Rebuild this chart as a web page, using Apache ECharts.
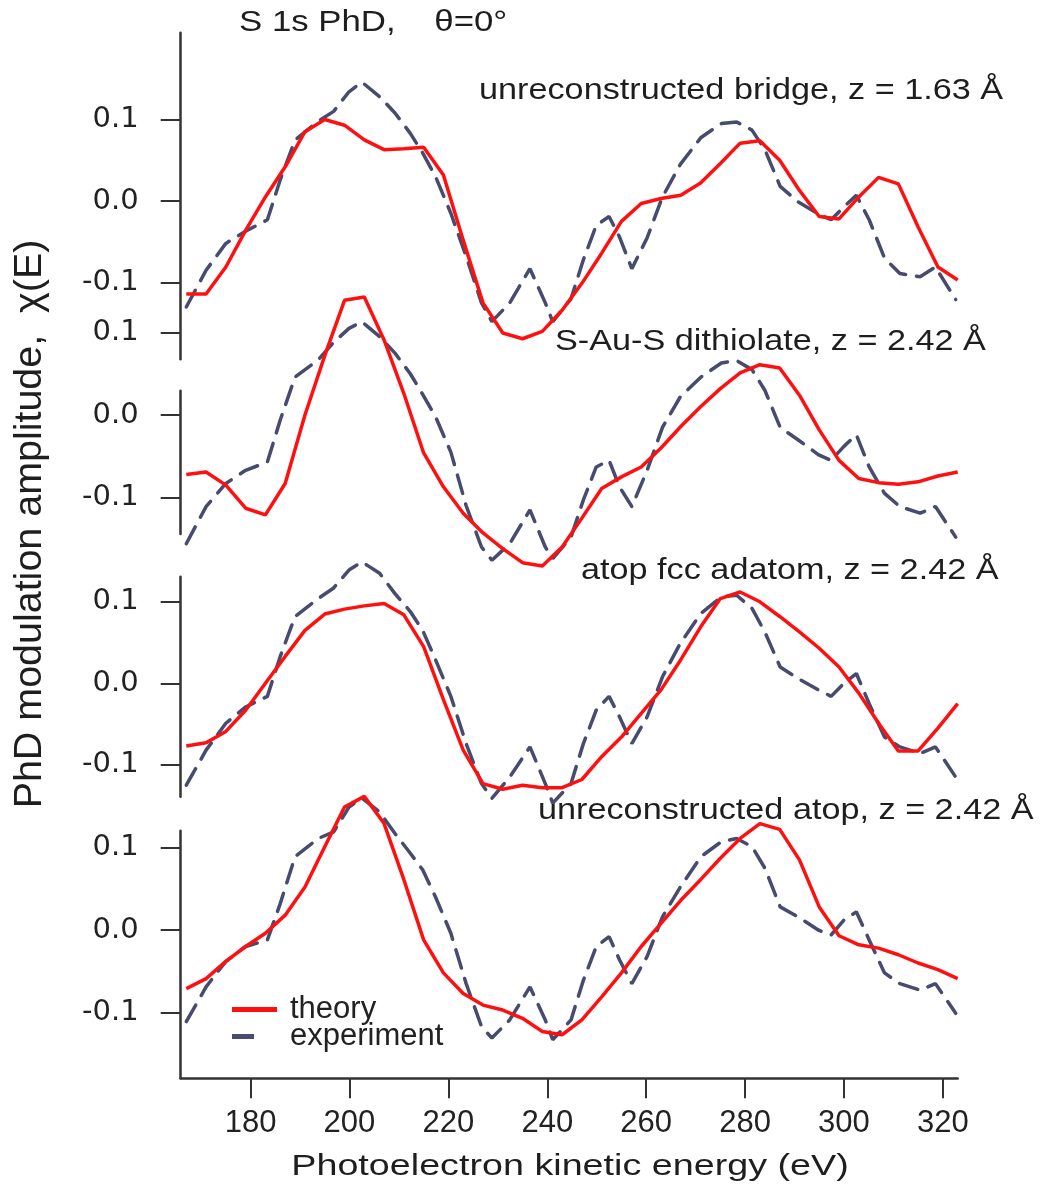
<!DOCTYPE html>
<html>
<head>
<meta charset="utf-8">
<script src="https://cdn.jsdelivr.net/npm/echarts@6/dist/echarts.min.js"></script>
<style>
  html, body { margin: 0; background: #fff; }
  #chart { width: 1043px; height: 1203px; }
</style>
</head>
<body>
<div id="chart"></div>
<script>
// photoelectron kinetic energy grids (eV)
const theoryEnergy = [167, 171, 175, 179, 183, 187, 191, 195, 199, 203, 207, 211, 215, 219, 223, 227, 231, 235, 239, 243,
  247, 251, 255, 259, 263, 267, 271, 275, 279, 283, 287, 291, 295, 299, 303, 307, 311, 315, 319, 323];
const exptEnergy = [167, 171, 175, 179, 183.4, 186, 189, 193.7, 196.8, 199.9, 202.5, 206.1, 209.2, 212.3, 214.8, 217.4,
  220.5, 223.6, 226.7, 228.8, 232.4, 236.5, 239.6, 241.1, 244.8, 247.3, 249.9, 252.5, 254.6, 257.1, 260.2, 263.3,
  266.9, 271.1, 275.2, 278.3, 281.4, 284.0, 287.1, 290.7, 294.8, 297.4, 300.0, 302.5, 305.1, 308.2, 311.3, 315.4,
  318.5, 322.6];

// unreconstructed bridge, z = 1.63 A
const bridgeTheory = [-0.114, -0.114, -0.081, -0.036, 0.005, 0.042, 0.085, 0.100, 0.093, 0.075, 0.063, 0.064, 0.066,
  0.032, -0.048, -0.125, -0.162, -0.169, -0.160, -0.134, -0.101, -0.064, -0.025, -0.003, 0.003, 0.007, 0.022, 0.046,
  0.071, 0.074, 0.050, 0.013, -0.019, -0.022, 0.005, 0.029, 0.021, -0.032, -0.081, -0.097];
const bridgeExpt = [-0.130, -0.085, -0.052, -0.037, -0.023, 0.026, 0.075, 0.098, 0.110, 0.134, 0.146, 0.128, 0.108,
  0.083, 0.059, 0.030, -0.015, -0.068, -0.125, -0.148, -0.125, -0.083, -0.125, -0.148, -0.120, -0.072, -0.030, -0.019,
  -0.044, -0.083, -0.045, 0.005, 0.045, 0.078, 0.095, 0.097, 0.087, 0.063, 0.018, -0.001, -0.016, -0.023, -0.007,
  0.007, -0.023, -0.070, -0.089, -0.093, -0.081, -0.121];

// S-Au-S dithiolate, z = 2.42 A
const dithiolateTheory = [-0.072, -0.069, -0.085, -0.113, -0.121, -0.083, 0.000, 0.072, 0.139, 0.143, 0.091, 0.026,
  -0.046, -0.087, -0.119, -0.143, -0.162, -0.179, -0.183, -0.160, -0.125, -0.089, -0.075, -0.063, -0.040, -0.014,
  0.010, 0.032, 0.051, 0.061, 0.057, 0.024, -0.018, -0.055, -0.077, -0.082, -0.084, -0.081, -0.074, -0.069];
const dithiolateExpt = [-0.156, -0.111, -0.083, -0.067, -0.057, -0.006, 0.046, 0.067, 0.088, 0.105, 0.113, 0.095,
  0.075, 0.050, 0.025, -0.002, -0.045, -0.110, -0.160, -0.176, -0.156, -0.115, -0.160, -0.174, -0.148, -0.103, -0.063,
  -0.055, -0.087, -0.111, -0.067, -0.015, 0.022, 0.046, 0.063, 0.066, 0.055, 0.030, -0.015, -0.030, -0.048, -0.055,
  -0.038, -0.024, -0.063, -0.095, -0.111, -0.119, -0.111, -0.148];

// atop fcc adatom, z = 2.42 A
const adatomTheory = [-0.077, -0.073, -0.059, -0.033, 0.000, 0.033, 0.065, 0.085, 0.091, 0.095, 0.098, 0.084, 0.045,
  -0.020, -0.082, -0.123, -0.130, -0.125, -0.128, -0.128, -0.118, -0.090, -0.066, -0.037, -0.008, 0.029, 0.069, 0.104,
  0.112, 0.100, 0.082, 0.063, 0.043, 0.020, -0.012, -0.049, -0.083, -0.083, -0.055, -0.025];
const adatomExpt = [-0.125, -0.082, -0.049, -0.029, -0.016, 0.033, 0.082, 0.104, 0.117, 0.139, 0.149, 0.135, 0.110,
  0.088, 0.065, 0.029, -0.016, -0.074, -0.123, -0.141, -0.115, -0.078, -0.123, -0.147, -0.123, -0.074, -0.033, -0.016,
  -0.041, -0.074, -0.041, 0.008, 0.049, 0.086, 0.106, 0.108, 0.092, 0.063, 0.020, 0.006, -0.008, -0.016, 0.000, 0.012,
  -0.025, -0.066, -0.078, -0.086, -0.078, -0.115];

// unreconstructed atop, z = 2.42 A
const atopTheory = [-0.071, -0.059, -0.038, -0.020, -0.004, 0.018, 0.052, 0.101, 0.149, 0.162, 0.129, 0.061, -0.012,
  -0.052, -0.077, -0.091, -0.097, -0.107, -0.123, -0.127, -0.109, -0.081, -0.052, -0.020, 0.008, 0.036, 0.061, 0.087,
  0.111, 0.129, 0.122, 0.085, 0.028, -0.007, -0.018, -0.022, -0.030, -0.040, -0.048, -0.059];
const atopExpt = [-0.111, -0.069, -0.038, -0.020, -0.012, 0.032, 0.089, 0.111, 0.119, 0.149, 0.160, 0.143, 0.117,
  0.093, 0.073, 0.040, -0.004, -0.065, -0.117, -0.131, -0.109, -0.069, -0.109, -0.133, -0.109, -0.061, -0.020, -0.008,
  -0.036, -0.065, -0.032, 0.016, 0.052, 0.089, 0.107, 0.111, 0.101, 0.075, 0.028, 0.016, 0.000, -0.006, 0.012, 0.022,
  -0.012, -0.052, -0.065, -0.073, -0.065, -0.101];

const panelLabels = ["unreconstructed bridge, z = 1.63 Å", "S-Au-S dithiolate, z = 2.42 Å",
  "atop fcc adatom, z = 2.42 Å", "unreconstructed atop, z = 2.42 Å"];
const yTicks = [-0.1, 0, 0.1];
const xTicks = [180, 200, 220, 240, 260, 280, 300, 320];

const theorySets = [bridgeTheory, dithiolateTheory, adatomTheory, atopTheory];
const exptSets = [bridgeExpt, dithiolateExpt, adatomExpt, atopExpt];

// layout of each stacked panel (pixel top/height and the value range they cover)
const panels = [
  { top: 32.7, height: 326.6, min: -0.1942, max: 0.2065, label: [479, 91] },
  { top: 330.85, height: 203.15, min: -0.14424, max: 0.102, label: [555, 342] },
  { top: 576.7, height: 220, min: -0.1391, max: 0.1308, label: [581, 571] },
  { top: 830.7, height: 247.6, min: -0.17976, max: 0.12036, label: [538, 811] },
];
const LEFT = 180.7, WIDTH = 777, XMIN = 165.87, XMAX = 323;
const RED = "#ff1010", EXP = "#474b6d", AXIS = "#333";
const textFont = "Liberation Sans";

const grids = panels.map(p => ({ left: LEFT, top: p.top, width: WIDTH, height: p.height }));
// separate short axis line for the 2nd panel (its 0.1 tick sits on the panel above)
grids.push({ left: LEFT, top: 390.7, width: WIDTH, height: 143.3 });

const xAxes = grids.map((g, i) => {
  const bottom = i === 3;
  return {
    type: "value", gridIndex: i, min: XMIN, max: XMAX, show: bottom,
    splitLine: { show: false },
    axisLine: { show: bottom, onZero: false, lineStyle: { color: AXIS, width: 2.5 } },
    axisTick: { show: bottom, customValues: xTicks, length: 20, lineStyle: { color: AXIS, width: 2 } },
    axisLabel: {
      show: bottom, customValues: xTicks, margin: 30,
      fontSize: 31, fontFamily: textFont, color: "#222",
    },
  };
});

const yAxes = panels.map((p, i) => ({
  type: "value", gridIndex: i, min: p.min, max: p.max,
  splitLine: { show: false },
  axisLine: { show: i !== 1, onZero: false, lineStyle: { color: AXIS, width: 2.5 } },
  axisTick: { show: true, customValues: yTicks, length: 20, lineStyle: { color: AXIS, width: 2 } },
  axisLabel: {
    customValues: yTicks, margin: 42, formatter: v => v.toFixed(1),
    fontSize: 29, fontFamily: "DejaVu Sans", color: "#222",
  },
}));
yAxes.push({
  type: "value", gridIndex: 4, min: 0, max: 1,
  splitLine: { show: false }, axisTick: { show: false }, axisLabel: { show: false },
  axisLine: { show: true, lineStyle: { color: AXIS, width: 2.5 } },
});

const series = [];
panels.forEach((p, i) => {
  series.push({
    name: "experiment", type: "line", xAxisIndex: i, yAxisIndex: i, clip: false,
    showSymbol: false, silent: true,
    data: exptEnergy.map((e, k) => [e, exptSets[i][k]]),
    itemStyle: { color: EXP },
    lineStyle: { color: EXP, width: 3.5, type: [19, 11], cap: "round" },
  });
  series.push({
    name: "theory", type: "line", xAxisIndex: i, yAxisIndex: i, clip: false,
    showSymbol: false, silent: true,
    data: theoryEnergy.map((e, k) => [e, theorySets[i][k]]),
    itemStyle: { color: RED },
    lineStyle: { color: RED, width: 3.5 },
  });
});

const legendText = { fontSize: 31, fontFamily: textFont, color: "#222", lineHeight: 30 };

const graphic = panels.map((p, i) => ({
  type: "text", x: p.label[0], y: p.label[1], scaleX: 1.18,
  style: { text: panelLabels[i], fontSize: 29, fontFamily: textFont, fill: "#1e1e1e", align: "left", verticalAlign: "middle" },
}));
graphic.push({
  type: "text", x: 239, y: 23, scaleX: 1.2,
  style: { text: "S 1s PhD,    θ=0°", fontSize: 29, fontFamily: textFont, fill: "#1e1e1e", align: "left", verticalAlign: "middle" },
});
graphic.push({
  type: "text", x: 570, y: 1167, scaleX: 1.3,
  style: { text: "Photoelectron kinetic energy (eV)", fontSize: 29, fontFamily: textFont, fill: "#1e1e1e", align: "center", verticalAlign: "middle" },
});
graphic.push({
  type: "text", x: 30, y: 524, rotation: Math.PI / 2, scaleX: 1.16, scaleY: 1.15,
  style: { text: "PhD modulation amplitude,  χ(E)", fontSize: 34, fontFamily: textFont, fill: "#1e1e1e", align: "center", verticalAlign: "middle" },
});

const myChart = echarts.init(document.getElementById("chart"), null, { renderer: "canvas" });
myChart.setOption({
  backgroundColor: "#fff",
  animation: false,
  grid: grids,
  xAxis: xAxes,
  yAxis: yAxes,
  legend: [
    {
      data: ["theory"], left: 232, top: 994, padding: 0, icon: "rect",
      itemWidth: 45, itemHeight: 5, selectedMode: false,
      textStyle: Object.assign({ padding: [0, 0, 0, 8] }, legendText),
    },
    {
      data: ["experiment"], left: 232, top: 1021, padding: 0, icon: "rect",
      itemWidth: 22, itemHeight: 5, selectedMode: false,
      textStyle: Object.assign({ padding: [0, 0, 0, 31] }, legendText),
    },
  ],
  graphic: graphic,
  series: series,
});
</script>
</body>
</html>
